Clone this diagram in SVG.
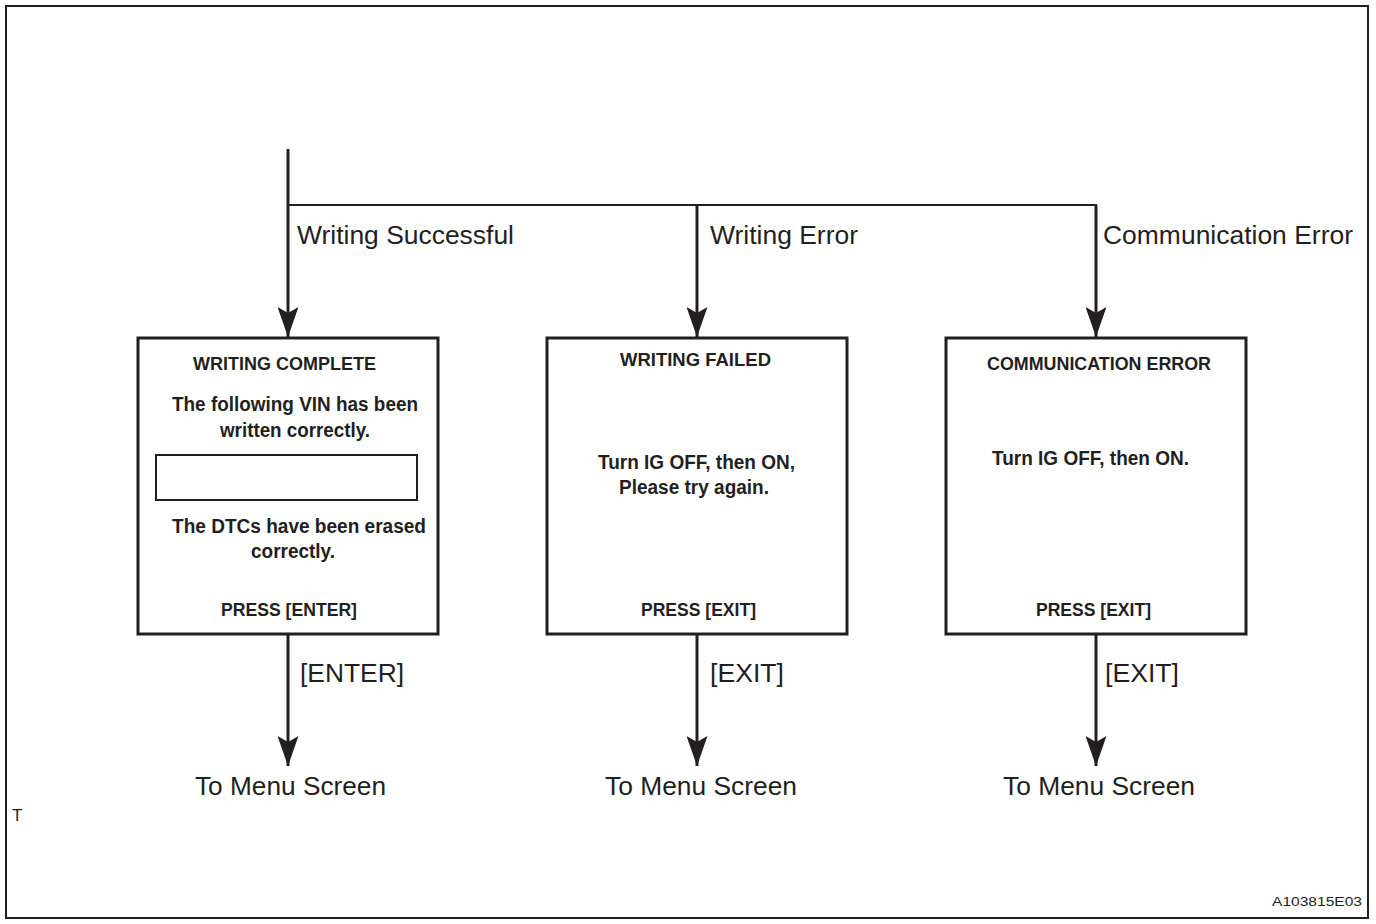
<svg xmlns="http://www.w3.org/2000/svg" width="1376" height="924" viewBox="0 0 1376 924">
<style>
.frame{fill:none;stroke:#231f20;stroke-width:2}
.box{fill:#fff;stroke:#231f20;stroke-width:3}
.line{fill:none;stroke:#231f20;stroke-width:3}
.thin{fill:none;stroke:#231f20;stroke-width:2}
.b{font-family:"Liberation Sans Narrow","Liberation Sans",Arial,sans-serif;font-weight:bold;fill:#231f20;text-anchor:start}
.r{font-family:"Liberation Sans",Arial,sans-serif;fill:#231f20;font-size:25px}
</style>
<defs>
<marker id="ah" markerWidth="21" markerHeight="30" refX="10.5" refY="30" orient="0" markerUnits="userSpaceOnUse">
<path d="M0,0 L10.5,30 L21,0 L10.5,6 Z" fill="#231f20"/>
</marker>
</defs>
<rect class="frame" x="6" y="6" width="1362" height="912"/>
<g id="connectors">
<line class="line" x1="288" y1="149" x2="288" y2="337" marker-end="url(#ah)"/>
<line class="thin" x1="288" y1="205" x2="1097" y2="205"/>
<line class="line" x1="697" y1="205" x2="697" y2="337" marker-end="url(#ah)"/>
<line class="line" x1="1096" y1="205" x2="1096" y2="337" marker-end="url(#ah)"/>
<line class="line" x1="288" y1="634" x2="288" y2="766" marker-end="url(#ah)"/>
<line class="line" x1="697" y1="634" x2="697" y2="766" marker-end="url(#ah)"/>
<line class="line" x1="1096" y1="634" x2="1096" y2="766" marker-end="url(#ah)"/>
<text class="r" x="297" y="244" textLength="217" lengthAdjust="spacingAndGlyphs">Writing Successful</text>
<text class="r" x="710" y="244" textLength="148" lengthAdjust="spacingAndGlyphs">Writing Error</text>
<text class="r" x="1103" y="244" textLength="250" lengthAdjust="spacingAndGlyphs">Communication Error</text>
<text class="r" x="300" y="682" textLength="104" lengthAdjust="spacingAndGlyphs">[ENTER]</text>
<text class="r" x="710" y="682" textLength="74" lengthAdjust="spacingAndGlyphs">[EXIT]</text>
<text class="r" x="1105" y="682" textLength="74" lengthAdjust="spacingAndGlyphs">[EXIT]</text>
</g>
<g id="node-writing-complete">
<rect class="box" x="138" y="338" width="300" height="296"/>
<rect class="thin" x="156" y="455" width="261" height="45"/>
<text class="b" x="193" y="370" font-size="18" textLength="183" lengthAdjust="spacingAndGlyphs">WRITING COMPLETE</text>
<text class="b" x="172" y="411" font-size="20" textLength="246" lengthAdjust="spacingAndGlyphs">The following VIN has been</text>
<text class="b" x="220" y="437" font-size="20" textLength="150" lengthAdjust="spacingAndGlyphs">written correctly.</text>
<text class="b" x="172" y="533" font-size="20" textLength="254" lengthAdjust="spacingAndGlyphs">The DTCs have been erased</text>
<text class="b" x="251" y="558" font-size="20" textLength="84" lengthAdjust="spacingAndGlyphs">correctly.</text>
<text class="b" x="221" y="616" font-size="18" textLength="136" lengthAdjust="spacingAndGlyphs">PRESS [ENTER]</text>
</g>
<g id="node-writing-failed">
<rect class="box" x="547" y="338" width="300" height="296"/>
<text class="b" x="620" y="366" font-size="18" textLength="151" lengthAdjust="spacingAndGlyphs">WRITING  FAILED</text>
<text class="b" x="598" y="469" font-size="20" textLength="197" lengthAdjust="spacingAndGlyphs">Turn IG OFF, then ON,</text>
<text class="b" x="619" y="494" font-size="20" textLength="150" lengthAdjust="spacingAndGlyphs">Please try again.</text>
<text class="b" x="641" y="616" font-size="18" textLength="115" lengthAdjust="spacingAndGlyphs">PRESS [EXIT]</text>
</g>
<g id="node-communication-error">
<rect class="box" x="946" y="338" width="300" height="296"/>
<text class="b" x="987" y="370" font-size="18" textLength="224" lengthAdjust="spacingAndGlyphs">COMMUNICATION ERROR</text>
<text class="b" x="992" y="465" font-size="20" textLength="197" lengthAdjust="spacingAndGlyphs">Turn IG OFF, then ON.</text>
<text class="b" x="1036" y="616" font-size="18" textLength="115" lengthAdjust="spacingAndGlyphs">PRESS [EXIT]</text>
</g>
<g id="node-menu-1"><text class="r" x="195" y="795" textLength="191" lengthAdjust="spacingAndGlyphs">To Menu Screen</text></g>
<g id="node-menu-2"><text class="r" x="605" y="795" textLength="192" lengthAdjust="spacingAndGlyphs">To Menu Screen</text></g>
<g id="node-menu-3"><text class="r" x="1003" y="795" textLength="192" lengthAdjust="spacingAndGlyphs">To Menu Screen</text></g>
<text x="12" y="821" font-family="Liberation Sans,Arial,sans-serif" font-size="17" fill="#231f20">T</text>
<text x="1272" y="906" font-family="Liberation Sans,Arial,sans-serif" font-size="12" fill="#231f20" textLength="90" lengthAdjust="spacingAndGlyphs">A103815E03</text>
</svg>
